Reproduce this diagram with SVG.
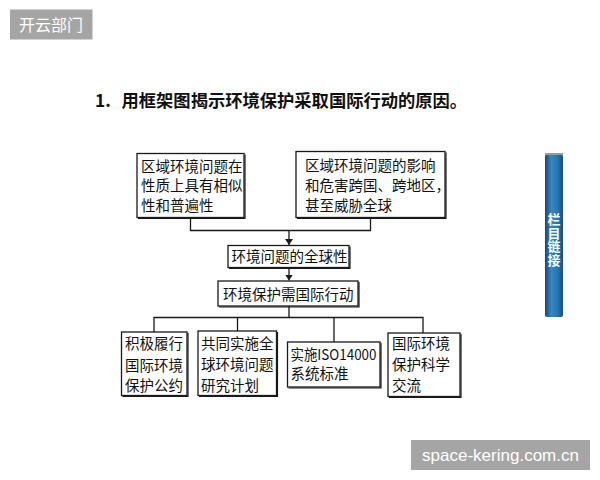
<svg xmlns="http://www.w3.org/2000/svg" width="600" height="480" viewBox="0 0 600 480">
<defs>
<style>
.box{fill:#fff;stroke:#1a1a1a;stroke-width:1.3}
.sh{fill:none;stroke:#1a1a1a;stroke-width:1.2}
.t{font-family:"Noto Sans CJK SC","Noto Sans",sans-serif;font-size:14.5px;fill:#111}
.c{stroke:#1a1a1a;stroke-width:1.3;fill:none}
.wm{font-family:"Noto Sans CJK SC","Liberation Sans",sans-serif;font-size:16px;fill:#fff}
</style>
<marker id="ah" markerWidth="6" markerHeight="8" refX="6" refY="4" orient="auto" markerUnits="userSpaceOnUse">
<path d="M0,0 L6,4 L0,8 Z" fill="#1a1a1a"/>
</marker>
<linearGradient id="bar" x1="0" y1="0" x2="1" y2="0">
<stop offset="0" stop-color="#15497d"/>
<stop offset="0.35" stop-color="#3588c4"/>
<stop offset="0.7" stop-color="#2a74b0"/>
<stop offset="1" stop-color="#164d82"/>
</linearGradient>
</defs>
<rect width="600" height="480" fill="#fff"/>

<g id="wm1">
<rect x="10" y="9.5" width="82.5" height="30" fill="#a5a5a5"/>
<text class="wm" x="51" y="30.5" text-anchor="middle">开云部门</text>
</g>

<g id="title">
<text x="95" y="106.5" font-family="'Noto Sans CJK SC',sans-serif" font-size="17.3" font-weight="bold" fill="#111">1.<tspan x="121.5">用框架图揭示环境保护采取国际行动的原因。</tspan></text>
</g>

<g id="sidebar">
<rect x="545" y="153" width="18" height="3" fill="#9a9a9a"/>
<rect x="545" y="155" width="18" height="162" rx="2" fill="url(#bar)"/>
<text x="554" y="213" writing-mode="vertical-rl" font-family="'Noto Sans CJK SC',sans-serif" font-size="13" font-weight="bold" fill="#fff" letter-spacing="0.5">栏目链接</text>
</g>

<g id="connectors">
<path class="c" d="M190.5,217.5 V230.5 H370.5 V217.5"/>
<path class="c" d="M289,230.5 V245" marker-end="url(#ah)"/>
<path class="c" d="M289,268 V280.5" marker-end="url(#ah)"/>
<path class="c" d="M289,306 V317.5"/>
<path class="c" d="M154,332 V317.5 H423 V333"/>
<path class="c" d="M237.5,317.5 V331"/>
<path class="c" d="M334,317.5 V342"/>
</g>

<g id="n1">
<rect class="box" x="137" y="153.5" width="107" height="64"/>
<path class="sh" d="M245,154.5 V218.5 H138"/>
<text class="t" x="141" y="171.5">区域环境问题在</text>
<text class="t" x="141" y="191">性质上具有相似</text>
<text class="t" x="141" y="210.5">性和普遍性</text>
</g>

<g id="n2">
<rect class="box" x="296" y="151.5" width="149" height="66"/>
<path class="sh" d="M446,152.5 V218.5 H297"/>
<text class="t" x="305" y="171">区域环境问题的影响</text>
<text class="t" x="305" y="191">和危害跨国、跨地区，</text>
<text class="t" x="305" y="211">甚至威胁全球</text>
</g>

<g id="n3">
<rect class="box" x="228" y="245.5" width="121" height="22"/>
<path class="sh" d="M350,246.5 V268.5 H229"/>
<text class="t" x="231.5" y="262">环境问题的全球性</text>
</g>

<g id="n4">
<rect class="box" x="218" y="281" width="140" height="25"/>
<path class="sh" d="M359,282 V307 H219"/>
<text class="t" x="223" y="299.5">环境保护需国际行动</text>
</g>

<g id="n5">
<rect class="box" x="121.5" y="332" width="65.5" height="63.5"/>
<path class="sh" d="M188,333 V396.5 H122.5"/>
<text class="t" x="125" y="349">积极履行</text>
<text class="t" x="125" y="370.5">国际环境</text>
<text class="t" x="125" y="391">保护公约</text>
</g>

<g id="n6">
<rect class="box" x="198" y="331" width="78.5" height="64.5"/>
<path class="sh" d="M277.5,332 V396.5 H199"/>
<text class="t" x="201" y="348.5">共同实施全</text>
<text class="t" x="201" y="370">球环境问题</text>
<text class="t" x="201" y="391">研究计划</text>
</g>

<g id="n7">
<rect class="box" x="287.5" y="342" width="92.5" height="45"/>
<path class="sh" d="M381,343 V388 H288.5"/>
<text class="t" x="290.5" y="360" textLength="86" lengthAdjust="spacingAndGlyphs">实施ISO14000</text>
<text class="t" x="290.5" y="379">系统标准</text>
</g>

<g id="n8">
<rect class="box" x="388" y="333" width="72" height="63.5"/>
<path class="sh" d="M461,334 V397.5 H389"/>
<text class="t" x="392" y="349">国际环境</text>
<text class="t" x="392" y="370">保护科学</text>
<text class="t" x="392" y="390.5">交流</text>
</g>

<g id="wm2">
<rect x="411" y="440" width="179" height="30" fill="#a5a5a5"/>
<text x="500.5" y="461" font-family="'Liberation Sans',sans-serif" font-size="17" fill="#fff" text-anchor="middle">space-kering.com.cn</text>
</g>
</svg>
